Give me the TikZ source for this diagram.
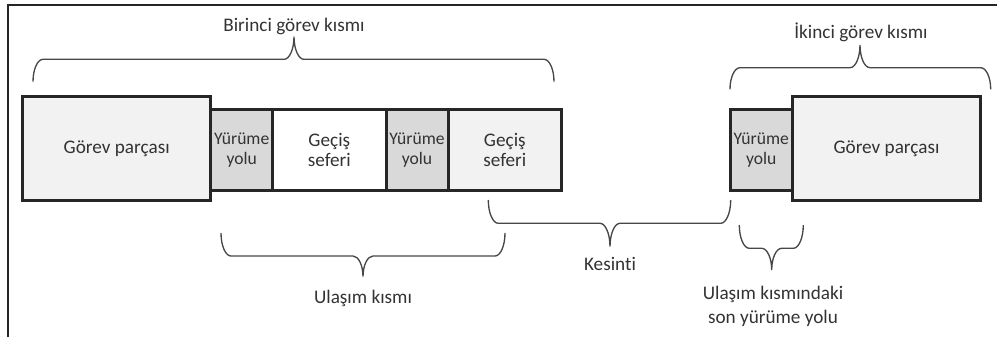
\documentclass[tikz,border=0pt]{standalone}
\usepackage{fontspec}
\setmainfont{Carlito}[Ligatures=NoCommon]
\begin{document}
% one unit = one pixel of a 997 x 336 canvas, y pointing down
\begin{tikzpicture}[x=0.75pt,y=-0.75pt,
  seg/.style={draw=black!85, line width=2.25pt},
  lbl/.style={font=\fontsize{14.4pt}{15pt}\selectfont, align=center, text=black!80},
  narrow/.style={font=\fontsize{13.2pt}{15pt}\selectfont},
  bracelabel/.style={font=\fontsize{14.4pt}{17.5pt}\selectfont, align=center, text=black!80, anchor=base, inner sep=0pt},
  brace/.style={draw=black!72, line width=1pt},
  walk/.style={fill=black!15},
  trip/.style={fill=black!5},
  blank/.style={fill=white},
  task/.style={fill=black!5}]
\useasboundingbox (0,0) rectangle (997,336);
\fill[white] (0,0) rectangle (997,336);
% outer frame
\draw[line width=1.5pt, black!85] (8,340) -- (8,5) -- (1000,5);

% brace: #1=x1, #2=x2, #3=y at ends, #4=y of the bar, #5=x of tip, #6=y of tip
\newcommand{\curlybrace}[6]{%
  \draw[brace] (#1,#3) .. controls (#1,{#3+0.55*(#4-#3)}) and ({#1+4.5},#4) .. ({#1+10},#4)
    -- ({#5-10},#4) .. controls ({#5-4.5},#4) and (#5,{#4+0.45*(#6-#4)}) .. (#5,#6)
    .. controls (#5,{#4+0.45*(#6-#4)}) and ({#5+4.5},#4) .. ({#5+10},#4)
    -- ({#2-10},#4) .. controls ({#2-4.5},#4) and (#2,{#3+0.55*(#4-#3)}) .. (#2,#3);}

% first task part
\path[seg,task] (22.7,96.7) rectangle (210.7,200.7);
\node[lbl] (gp1) at (116.7,148.7) {Görev parçası};
\path[seg,walk] (210.7,109) rectangle (272.7,190.7);
\node[lbl,narrow] (y1) at (241.7,149.9) {Yürüme\\yolu};
\path[seg,blank] (272.7,109) rectangle (386,190.7);
\node[lbl] (g1) at (329.3,149.9) {Geçiş\\seferi};
\path[seg,walk] (386,109) rectangle (448,190.7);
\node[lbl,narrow] (y2) at (417,149.9) {Yürüme\\yolu};
\path[seg,trip] (448,109) rectangle (561.7,190.7);
\node[lbl] (g2) at (504.8,149.9) {Geçiş\\seferi};

% second task part
\path[seg,walk] (730,109) rectangle (792.3,190.7);
\node[lbl,narrow] (y3) at (761.2,149.9) {Yürüme\\yolu};
\path[seg,task] (792.3,96.7) rectangle (980.7,200.7);
\node[lbl] (gp2) at (886.5,148.7) {Görev parçası};

% braces and their captions
\curlybrace{33}{554}{81.7}{59.3}{294}{36.7}
\node[bracelabel] (c1) at (294,31) {Birinci görev kısmı};
\curlybrace{730}{990.7}{89.3}{67.7}{860}{45}
\node[bracelabel] (c2) at (861,38.3) {İkinci görev kısmı};
\curlybrace{221}{505}{233}{256}{363}{276.7}
\node[bracelabel] (c3) at (363,303.3) {Ulaşım kısmı};
\curlybrace{488.3}{730.7}{200}{223.3}{610}{246.7}
\node[bracelabel] (c4) at (610,270.7) {Kesinti};
\curlybrace{739.3}{803.3}{225}{248.3}{771.7}{270}
\node[bracelabel] (c5) at (773,323.3) {Ulaşım kısmındaki\\son yürüme yolu};
\end{tikzpicture}
\end{document}
